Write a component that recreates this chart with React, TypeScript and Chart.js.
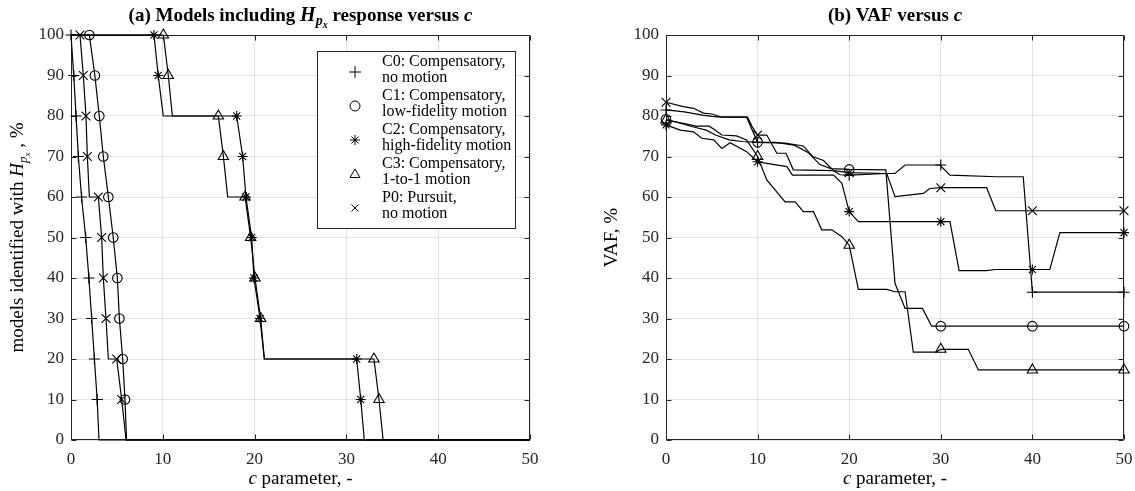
import React, { useEffect, useRef } from 'react';
import { Chart, registerables } from 'chart.js';

Chart.register(...registerables);

// ---------- shared ticks ----------
const X_TICKS = [0, 10, 20, 30, 40, 50];
const Y_TICKS = [0, 10, 20, 30, 40, 50, 60, 70, 80, 90, 100];

// ---------- series meta ----------
const SERIES_LINE1 = ['C0: Compensatory,', 'C1: Compensatory,', 'C2: Compensatory,', 'C3: Compensatory,', 'P0: Pursuit,'];
const SERIES_LINE2 = ['no motion', 'low-fidelity motion', 'high-fidelity motion', '1-to-1 motion', 'no motion'];
const SERIES_STYLE = ['cross', 'circle', 'star', 'triangle', 'crossRot'];
const SERIES_RADIUS = [5.5, 4.8, 5, 6, 6.2];

// ---------- panel (a): models including H_px (%) ----------
const A_LEVELS = [100, 90, 80, 70, 60, 50, 40, 30, 20, 10];

const A_C0_LINE_X = [0, 0.3, 0.55, 0.8, 1.15, 1.6, 1.95, 2.25, 2.55, 2.85, 3.05, 50];
const A_C0_LINE_Y = [100, 90, 80, 70, 60, 50, 40, 30, 20, 10, 0, 0];
const A_C0_MARK_X = [0, 0.3, 0.55, 0.8, 1.15, 1.6, 1.95, 2.25, 2.55, 2.85];

const A_C1_LINE_X = [0, 2.0, 2.6, 3.08, 3.52, 4.07, 4.6, 5.05, 5.27, 5.63, 5.88, 6.05, 50];
const A_C1_LINE_Y = [100, 100, 90, 80, 70, 60, 50, 40, 30, 20, 10, 0, 0];
const A_C1_MARK_X = [2.0, 2.6, 3.08, 3.52, 4.07, 4.6, 5.05, 5.27, 5.63, 5.88];

const A_C2_LINE_X = [0, 9.04, 9.5, 10.05, 18.05, 18.7, 19.06, 19.68, 19.93, 20.59, 21.06, 31.12, 31.56, 31.95, 50];
const A_C2_LINE_Y = [100, 100, 90, 80, 80, 70, 60, 50, 40, 30, 20, 20, 10, 0, 0];
const A_C2_MARK_X = [9.04, 9.5, 18.05, 18.7, 19.06, 19.68, 19.93, 20.59, 31.12, 31.56];

const A_C3_LINE_X = [0, 10.06, 10.6, 11.04, 16.05, 16.6, 17.07, 18.96, 19.57, 20.04, 20.66, 21.06, 33.0, 33.55, 34.0, 50];
const A_C3_LINE_Y = [100, 100, 90, 80, 80, 70, 60, 60, 50, 40, 30, 20, 20, 10, 0, 0];
const A_C3_MARK_X = [10.06, 10.6, 16.05, 16.6, 18.96, 19.57, 20.04, 20.66, 33.0, 33.55];

const A_P0_LINE_X = [0, 0.98, 1.34, 1.63, 1.78, 2.0, 2.98, 3.34, 3.52, 3.81, 4.07, 4.98, 5.52, 6.0, 50];
const A_P0_LINE_Y = [100, 100, 90, 80, 70, 60, 60, 50, 40, 30, 20, 20, 10, 0, 0];
const A_P0_MARK_X = [0.98, 1.34, 1.63, 1.78, 2.98, 3.34, 3.52, 3.81, 4.98, 5.52];

// ---------- panel (b): VAF (%) ----------
const B_MARK_X = [0, 10, 20, 30, 40, 50];

const B_C0_X = [0, 2, 4, 5, 6, 8.8, 10, 13, 15, 16, 17.2, 18.3, 19, 20, 24.1, 25, 26.1, 29.9, 31, 36.1, 39, 40, 50];
const B_C0_Y = [81.5, 81, 80.2, 79.9, 79.7, 79.7, 73.5, 73.3, 72.6, 70, 69, 66.5, 65.5, 65.4, 65.8, 65.8, 67.9, 67.9, 65.4, 65.0, 65.0, 36.5, 36.5];
const B_C0_MARK = [81.5, 73.5, 65.4, 67.9, 36.5, 36.5];

const B_C1_X = [0, 1.56, 2.8, 4.4, 5.4, 6.9, 8.3, 10, 12, 14, 15.5, 16.8, 18, 20, 24.0, 25, 26.1, 28, 29, 50];
const B_C1_Y = [79.2, 78.2, 77.4, 76.5, 75.3, 74.1, 73.7, 73.5, 73.5, 72.8, 71, 68, 67, 66.8, 66.7, 38.7, 32.5, 32.5, 28.1, 28.1];
const B_C1_MARK = [79.2, 73.5, 66.8, 28.1, 28.1, 28.1];

const B_C2_X = [0, 1.56, 3.0, 3.9, 5.2, 6.1, 7.0, 8.8, 10, 11, 13.2, 13.8, 18.3, 19.2, 20, 21, 31, 32, 35, 35.9, 41.9, 43, 50];
const B_C2_Y = [77.8, 76.5, 76.1, 74.5, 74.1, 72.0, 73.4, 71.2, 68.7, 68.3, 67.5, 65.4, 65.4, 63.4, 56.4, 53.9, 53.9, 41.8, 41.8, 42.1, 42.1, 51.2, 51.2];
const B_C2_MARK = [77.8, 68.7, 56.4, 53.9, 42.1, 51.2];

const B_C3_X = [0, 1.9, 3.3, 4.7, 5.4, 6.1, 7.7, 8.8, 10, 11, 13, 14.1, 15, 16.1, 17, 18.1, 19.2, 20, 21, 24.1, 25, 26.1, 27, 29.5, 30, 33, 34.1, 50];
const B_C3_Y = [79, 78.2, 77.5, 77.5, 76.5, 75.3, 75.1, 74.1, 70, 64.2, 58.8, 58.8, 56.4, 56.4, 51.9, 51.9, 50.2, 48.1, 37.2, 37.2, 36.6, 36.6, 21.7, 21.7, 22.4, 22.4, 17.3, 17.3];
const B_C3_MARK = [79.0, 70.0, 48.1, 22.4, 17.3, 17.3];

const B_P0_X = [0, 1.9, 3.0, 4.1, 5.0, 6.1, 8.9, 9.4, 10, 11, 12.1, 13.1, 13.9, 18.3, 20, 24.1, 25, 28.1, 28.8, 30, 35, 36, 50];
const B_P0_Y = [83.4, 82.3, 81.9, 80.7, 80.5, 79.7, 79.7, 77.4, 75.3, 75.3, 70.8, 70.8, 66.7, 66.5, 66.0, 65.8, 60.1, 60.9, 62.1, 62.3, 62.3, 56.6, 56.6];
const B_P0_MARK = [83.4, 75.3, 66.0, 62.3, 56.6, 56.6];

// ---------- styling ----------
const FONT = "'Liberation Serif', 'Times New Roman', serif";
const AXIS = '#262626';
const GRID = '#e3e3e3';

type Seg = { t: string; f: string; dy?: number };

function drawRich(ctx: CanvasRenderingContext2D, segs: Seg[], x: number, y: number, align: 'center' | 'left') {
  ctx.save();
  ctx.textBaseline = 'alphabetic';
  ctx.textAlign = 'left';
  ctx.fillStyle = '#000';
  let w = 0;
  for (const s of segs) { ctx.font = s.f; w += ctx.measureText(s.t).width; }
  let cx = align === 'center' ? x - w / 2 : x;
  for (const s of segs) {
    ctx.font = s.f;
    ctx.fillText(s.t, cx, y + (s.dy || 0));
    cx += ctx.measureText(s.t).width;
  }
  ctx.restore();
}

function drawMarker(ctx: CanvasRenderingContext2D, style: string, x: number, y: number, r: number) {
  ctx.save();
  ctx.strokeStyle = '#000';
  ctx.lineWidth = 1;
  ctx.beginPath();
  if (style === 'cross') {
    ctx.moveTo(x - r, y); ctx.lineTo(x + r, y); ctx.moveTo(x, y - r); ctx.lineTo(x, y + r);
  } else if (style === 'circle') {
    ctx.arc(x, y, r, 0, Math.PI * 2);
  } else if (style === 'star') {
    const d = r * Math.SQRT1_2;
    ctx.moveTo(x - r, y); ctx.lineTo(x + r, y); ctx.moveTo(x, y - r); ctx.lineTo(x, y + r);
    ctx.moveTo(x - d, y - d); ctx.lineTo(x + d, y + d); ctx.moveTo(x - d, y + d); ctx.lineTo(x + d, y - d);
  } else if (style === 'triangle') {
    ctx.moveTo(x, y - r); ctx.lineTo(x + r, y + r * 0.7); ctx.lineTo(x - r, y + r * 0.7); ctx.closePath();
  } else {
    const d = r * Math.SQRT1_2;
    ctx.moveTo(x - d, y - d); ctx.lineTo(x + d, y + d); ctx.moveTo(x - d, y + d); ctx.lineTo(x + d, y - d);
  }
  ctx.stroke();
  ctx.restore();
}

function boxPlugin() {
  return {
    id: 'boxTicks',
    beforeDatasetsDraw(chart: any) {
      const { ctx, chartArea: a, scales } = chart;
      ctx.save();
      ctx.strokeStyle = AXIS;
      ctx.lineWidth = 1;
      const L = Math.round(a.left) + 0.5, R = Math.round(a.right) - 0.5;
      const T = Math.round(a.top) + 0.5, B = Math.round(a.bottom) - 0.5;
      ctx.beginPath();
      ctx.rect(L, T, R - L, B - T);
      for (const v of X_TICKS) {
        const px = Math.round(scales.x.getPixelForValue(v)) + 0.5;
        ctx.moveTo(px, B); ctx.lineTo(px, B - 5);
        ctx.moveTo(px, T); ctx.lineTo(px, T + 5);
      }
      for (const v of Y_TICKS) {
        const py = Math.round(scales.y.getPixelForValue(v)) + 0.5;
        ctx.moveTo(L, py); ctx.lineTo(L + 5, py);
        ctx.moveTo(R, py); ctx.lineTo(R - 5, py);
      }
      ctx.stroke();
      ctx.restore();
    },
  };
}

function textPlugin(title: Seg[], ylabel: Seg[], ylabelX: number, legend: boolean) {
  return {
    id: 'texts',
    afterDraw(chart: any) {
      const { ctx, chartArea: a } = chart;
      const cx = (a.left + a.right) / 2;
      const cy = (a.top + a.bottom) / 2;
      drawRich(ctx, title, cx, 21, 'center');
      drawRich(ctx, [
        { t: 'c', f: `italic 19px ${FONT}` },
        { t: ' parameter, -', f: `19px ${FONT}` },
      ], cx, 484, 'center');
      ctx.save();
      ctx.translate(ylabelX, cy);
      ctx.rotate(-Math.PI / 2);
      drawRich(ctx, ylabel, 0, 0, 'center');
      ctx.restore();
      if (legend) {
        ctx.save();
        ctx.fillStyle = '#fff';
        ctx.fillRect(317, 51, 198, 177);
        ctx.strokeStyle = AXIS;
        ctx.lineWidth = 1;
        ctx.strokeRect(317.5, 51.5, 198, 177);
        ctx.restore();
        for (let i = 0; i < SERIES_LINE1.length; i++) {
          const my = 72 + 34 * i;
          drawMarker(ctx, SERIES_STYLE[i], 355, my, SERIES_STYLE[i] === 'cross' ? 6 : 5);
          drawRich(ctx, [{ t: SERIES_LINE1[i], f: `16px ${FONT}` }], 382, 66 + 34 * i, 'left');
          drawRich(ctx, [{ t: SERIES_LINE2[i], f: `16px ${FONT}` }], 382, 82 + 34 * i, 'left');
        }
      }
    },
  };
}

function pts(xs: number[], ys: number[]) {
  return xs.map((x, i) => ({ x, y: ys[i] }));
}

function lineDs(xs: number[], ys: number[]) {
  return {
    data: pts(xs, ys), showLine: true, borderColor: '#000', borderWidth: 1.2,
    pointRadius: 0, fill: false, tension: 0, clip: false,
  };
}

function markDs(xs: number[], ys: number[], i: number) {
  return {
    data: pts(xs, ys), showLine: false, pointStyle: SERIES_STYLE[i],
    pointRadius: SERIES_RADIUS[i], pointBorderColor: '#000', pointBackgroundColor: 'rgba(0,0,0,0)',
    pointBorderWidth: 1.1, borderColor: '#000', backgroundColor: 'rgba(0,0,0,0)', clip: false,
  };
}

function makeConfig(datasets: any[], leftW: number, rightPad: number, plugins: any[]) {
  const tickFont = { family: FONT, size: 17 };
  return {
    type: 'scatter' as const,
    data: { datasets },
    options: {
      animation: false as const,
      responsive: false,
      devicePixelRatio: 1,
      layout: { padding: { top: 35, right: rightPad, left: 0, bottom: 0 } },
      plugins: { legend: { display: false }, title: { display: false }, tooltip: { enabled: false } },
      events: [],
      scales: {
        x: {
          type: 'linear' as const, min: 0, max: 50,
          afterBuildTicks: (s: any) => { s.ticks = X_TICKS.map((v) => ({ value: v })); },
          grid: { color: GRID, drawTicks: false, lineWidth: 1 },
          border: { display: false },
          ticks: { color: AXIS, font: tickFont, padding: 9, maxRotation: 0, autoSkip: false },
          afterFit: (s: any) => { s.height = 51; },
        },
        y: {
          type: 'linear' as const, min: 0, max: 100,
          afterBuildTicks: (s: any) => { s.ticks = Y_TICKS.map((v) => ({ value: v })); },
          grid: { color: GRID, drawTicks: false, lineWidth: 1 },
          border: { display: false },
          ticks: { color: AXIS, font: tickFont, padding: 7, autoSkip: false },
          afterFit: (s: any) => { s.width = leftW; },
        },
      },
    },
    plugins,
  };
}

export default function App() {
  const refA = useRef<HTMLCanvasElement>(null);
  const refB = useRef<HTMLCanvasElement>(null);

  useEffect(() => {
    const aLines = [
      [A_C0_LINE_X, A_C0_LINE_Y], [A_C1_LINE_X, A_C1_LINE_Y], [A_C2_LINE_X, A_C2_LINE_Y],
      [A_C3_LINE_X, A_C3_LINE_Y], [A_P0_LINE_X, A_P0_LINE_Y],
    ];
    const aMarks = [A_C0_MARK_X, A_C1_MARK_X, A_C2_MARK_X, A_C3_MARK_X, A_P0_MARK_X];
    const dsA: any[] = [];
    aLines.forEach(([xs, ys]) => dsA.push(lineDs(xs, ys)));
    aMarks.forEach((xs, i) => dsA.push(markDs(xs, A_LEVELS, i)));

    const bLines = [
      [B_C0_X, B_C0_Y], [B_C1_X, B_C1_Y], [B_C2_X, B_C2_Y], [B_C3_X, B_C3_Y], [B_P0_X, B_P0_Y],
    ];
    const bMarks = [B_C0_MARK, B_C1_MARK, B_C2_MARK, B_C3_MARK, B_P0_MARK];
    const dsB: any[] = [];
    bLines.forEach(([xs, ys]) => dsB.push(lineDs(xs, ys)));
    bMarks.forEach((ys, i) => dsB.push(markDs(B_MARK_X, ys, i)));

    const titleA: Seg[] = [
      { t: '(a) Models including ', f: `bold 19px ${FONT}` },
      { t: 'H', f: `bold italic 20px ${FONT}` },
      { t: 'p', f: `bold italic 14px ${FONT}`, dy: 4 },
      { t: 'x', f: `bold italic 10px ${FONT}`, dy: 7 },
      { t: ' response versus ', f: `bold 19px ${FONT}` },
      { t: 'c', f: `bold italic 19px ${FONT}` },
    ];
    const ylabA: Seg[] = [
      { t: 'models identified with ', f: `19px ${FONT}` },
      { t: 'H', f: `italic 19px ${FONT}` },
      { t: 'p', f: `italic 13px ${FONT}`, dy: 4 },
      { t: 'x', f: `italic 9px ${FONT}`, dy: 7 },
      { t: ' , %', f: `19px ${FONT}` },
    ];
    const titleB: Seg[] = [
      { t: '(b) VAF versus ', f: `bold 19px ${FONT}` },
      { t: 'c', f: `bold italic 19px ${FONT}` },
    ];
    const ylabB: Seg[] = [{ t: 'VAF, %', f: `19px ${FONT}` }];

    const chartA = new Chart(refA.current as HTMLCanvasElement,
      makeConfig(dsA, 71, 37, [boxPlugin(), textPlugin(titleA, ylabA, 23, true)]) as any);
    const chartB = new Chart(refB.current as HTMLCanvasElement,
      makeConfig(dsB, 99, 19, [boxPlugin(), textPlugin(titleB, ylabB, 617 - 567, false)]) as any);
    return () => { chartA.destroy(); chartB.destroy(); };
  }, []);

  return (
    <div style={{ position: 'fixed', left: 0, top: 0, width: 1135, height: 491, background: '#fff', overflow: 'hidden' }}>
      <canvas ref={refA} width={567} height={491} style={{ position: 'absolute', left: 0, top: 0, width: 567, height: 491 }} />
      <canvas ref={refB} width={576} height={491} style={{ position: 'absolute', left: 567, top: 0, width: 576, height: 491 }} />
    </div>
  );
}
